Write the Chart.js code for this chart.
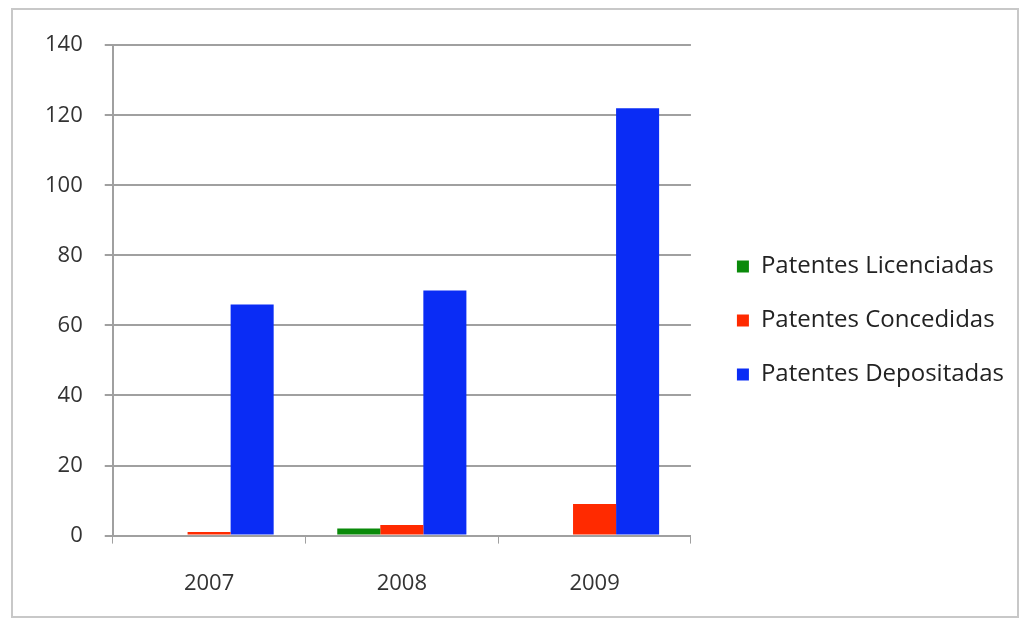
<!DOCTYPE html>
<html>
<head>
<meta charset="utf-8">
<script src="https://cdn.jsdelivr.net/npm/chart.js@4/dist/chart.umd.min.js"></script>
<style>
  body { margin: 0; background: #fff; }
  #frame {
    position: absolute; left: 11px; top: 8px; width: 1008px; height: 610px;
    border: 2px solid #c8c8c8; box-sizing: border-box;
  }
  #wrap { position: absolute; left: 0; top: 0; width: 1004px; height: 606px; }
</style>
</head>
<body>
<div id="frame"><div id="wrap"><canvas id="patentChart"></canvas></div></div>
<script>
const years = ["2007", "2008", "2009"];
const licenciadas = [0, 2, 0];
const concedidas = [1, 3, 9];
const depositadas = [66, 70, 122];

const ctx = document.getElementById("patentChart").getContext("2d");
const fontFamily = "'Open Sans', sans-serif";

// invisible axis used only to reserve space
const spacer = (pos, size) => ({
  type: "linear",
  position: pos,
  grid: { display: false },
  border: { display: false },
  ticks: { display: false },
  afterFit: (scale) => {
    if (pos === "top") scale.height = size;
    else scale.width = size;
  },
});

new Chart(ctx, {
  type: "bar",
  data: {
    labels: years,
    datasets: [
      { label: "Patentes Licenciadas", data: licenciadas, backgroundColor: "#0a8a0a" },
      { label: "Patentes Concedidas", data: concedidas, backgroundColor: "#ff2a00" },
      { label: "Patentes Depositadas", data: depositadas, backgroundColor: "#0a2cf5" },
    ],
  },
  options: {
    responsive: true,
    maintainAspectRatio: false,
    animation: false,
    layout: { padding: { top: 7, left: 10, right: 3, bottom: -8 } },
    datasets: { bar: { categoryPercentage: 0.67, barPercentage: 1.0 } },
    plugins: {
      tooltip: { enabled: false },
      legend: {
        position: "right",
        maxWidth: 400,
        labels: {
          boxWidth: 12,
          boxHeight: 12,
          padding: 30,
          color: "#222",
          font: { family: fontFamily, size: 24 },
        },
      },
    },
    scales: {
      x: {
        grid: { drawOnChartArea: false, color: "#a0a0a0", tickLength: 8, offset: true },
        border: { color: "#a0a0a0", width: 2 },
        ticks: { color: "#333", padding: 27, font: { family: fontFamily, size: 22 } },
      },
      y: {
        min: 0,
        max: 140,
        ticks: { stepSize: 20, color: "#333", padding: 22, font: { family: fontFamily, size: 22 } },
        grid: { color: "#a0a0a0", lineWidth: 2, tickLength: 8 },
        border: { color: "#a0a0a0", width: 2 },
      },
      gapRight: spacer("right", 16),
      gapTop: spacer("top", 24),
    },
  },
});
</script>
</body>
</html>
